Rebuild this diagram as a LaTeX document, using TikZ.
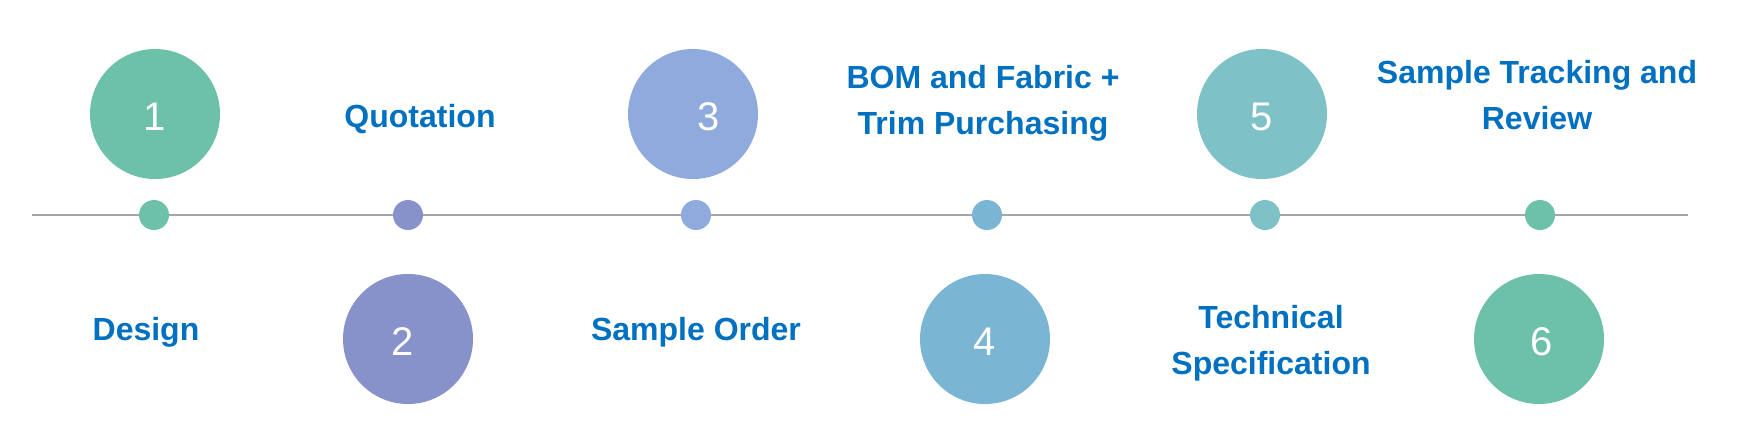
\documentclass[tikz,border=0pt]{standalone}
\usepackage{fontspec}
\setmainfont{Liberation Sans}
\usepackage{tikz}
\usetikzlibrary{calc, shapes}

\definecolor{stepgreen}{HTML}{6DC1A8}
\definecolor{steppurple}{HTML}{8791CA}
\definecolor{stepperiwinkle}{HTML}{8FAADC}
\definecolor{stepsky}{HTML}{7BB5D4}
\definecolor{stepteal}{HTML}{7EC2C7}
\definecolor{labelblue}{HTML}{0070C0}
\definecolor{linegray}{HTML}{A6A6A6}

\begin{document}
\begin{tikzpicture}[x=0.5pt,y=-0.5pt]
\tikzstyle{bigdot}=[circle,minimum size=65pt,inner sep=0pt,text=white,text height=16.5pt,font=\fontsize{20}{24}\selectfont]
\tikzstyle{smalldot}=[circle,minimum size=15pt,inner sep=0pt]
\tikzstyle{steplabel}=[align=center,text=labelblue,font=\fontsize{16}{23}\selectfont\bfseries]
\useasboundingbox[fill=white] (0,0) rectangle (1754,430);
% timeline
\coordinate (T_start) at (32,215);
\coordinate (T_end) at (1688,215);
\draw[linegray,line width=1pt] (T_start) -- (T_end);
\node[smalldot,fill=stepgreen] (D_1) at (154,215) {};
\node[smalldot,fill=steppurple] (D_2) at (408,215) {};
\node[smalldot,fill=stepperiwinkle] (D_3) at (696,215) {};
\node[smalldot,fill=stepsky] (D_4) at (987,215) {};
\node[smalldot,fill=stepteal] (D_5) at (1265,215) {};
\node[smalldot,fill=stepgreen] (D_6) at (1540,215) {};
% numbered circles
\node[bigdot,fill=stepgreen] (S_1) at (155,114) {1};
\node[bigdot,fill=steppurple] (S_2) at (408,339) {2\hspace*{5pt}};
\node[bigdot,fill=stepperiwinkle] (S_3) at (693,114) {\hspace*{16pt}3};
\node[bigdot,fill=stepsky] (S_4) at (985,339) {4};
\node[bigdot,fill=stepteal] (S_5) at (1262,114) {5};
\node[bigdot,fill=stepgreen] (S_6) at (1539,339) {\hspace*{3pt}6};
% labels
\node[steplabel] (L_1) at (146,332) {Design};
\node[steplabel] (L_2) at (420,119) {Quotation};
\node[steplabel] (L_3) at (696,332) {Sample Order};
\node[steplabel] (L_4) at (983,103) {BOM and Fabric +\\Trim Purchasing};
\node[steplabel] (L_5) at (1271,343) {Technical\\Specification};
\node[steplabel] (L_6) at (1537,95) {Sample Tracking and\\Review};
\end{tikzpicture}
\end{document}
